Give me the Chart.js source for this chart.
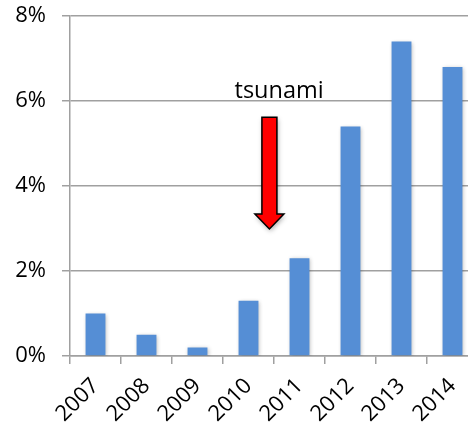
<!DOCTYPE html>
<html>
<head>
<meta charset="utf-8">
<script src="https://cdn.jsdelivr.net/npm/chart.js@4"></script>
<style>
  html, body { margin: 0; padding: 0; background: #fff; overflow: hidden; }
  #wrap { width: 480px; height: 438px; }
</style>
</head>
<body>
<div id="wrap"><canvas id="my_chart" width="480" height="438"></canvas></div>
<script>
const years = ['2007', '2008', '2009', '2010', '2011', '2012', '2013', '2014'];
const growth = [1.0, 0.5, 0.2, 1.3, 2.3, 5.4, 7.4, 6.8];
const yTickValues = [0, 2, 4, 6, 8];

const noteText = 'tsunami';
// where the note sits, in category index / axis value
const noteAt = 3.6, noteY = 6.07;
const arrowAt = 3.41, arrowTop = 5.62, arrowTip = 2.99;

const gridColor = '#a0a0a0';
const font = "'Open Sans', 'Liberation Sans', sans-serif";

const shadowPlugin = {
    id: 'barShadow',
    beforeDatasetsDraw(chart) {
        const ctx = chart.ctx;
        ctx.save();
        ctx.shadowColor = 'rgba(0,0,0,0.28)';
        ctx.shadowBlur = 4;
        ctx.shadowOffsetX = 1;
        ctx.shadowOffsetY = 1;
    },
    afterDatasetsDraw(chart) {
        chart.ctx.restore();
    }
};

const notePlugin = {
    id: 'tsunamiNote',
    afterDraw(chart) {
        const ctx = chart.ctx;
        const x = chart.scales.x, y = chart.scales.y;
        const step = x.getPixelForValue(1) - x.getPixelForValue(0);
        const px = (i) => x.getPixelForValue(0) + i * step;

        ctx.save();
        ctx.font = "23.5px " + font;
        ctx.fillStyle = '#000';
        ctx.textAlign = 'center';
        ctx.textBaseline = 'alphabetic';
        ctx.fillText(noteText, px(noteAt), y.getPixelForValue(noteY));

        const cx = px(arrowAt);
        const top = y.getPixelForValue(arrowTop);
        const tip = y.getPixelForValue(arrowTip);
        const shaft = 7.5, head = 14.5, headLen = 15;
        ctx.beginPath();
        ctx.moveTo(cx - shaft, top);
        ctx.lineTo(cx + shaft, top);
        ctx.lineTo(cx + shaft, tip - headLen);
        ctx.lineTo(cx + head, tip - headLen);
        ctx.lineTo(cx, tip);
        ctx.lineTo(cx - head, tip - headLen);
        ctx.lineTo(cx - shaft, tip - headLen);
        ctx.closePath();
        ctx.shadowColor = 'rgba(0,0,0,0.35)';
        ctx.shadowBlur = 5;
        ctx.shadowOffsetX = 1;
        ctx.shadowOffsetY = 2;
        ctx.fillStyle = '#ff0000';
        ctx.fill();
        ctx.shadowColor = 'transparent';
        ctx.lineWidth = 1.5;
        ctx.strokeStyle = '#000';
        ctx.stroke();
        ctx.restore();
    }
};

const info = {
    labels: years,
    datasets: [{
        data: growth,
        backgroundColor: '#558ed5',
        categoryPercentage: 0.78,
        barPercentage: 0.5
    }]
};

const options = {
    responsive: false,
    animation: false,
    layout: { padding: { top: 16, right: 2, left: 0, bottom: 0 } },
    scales: {
        y: {
            min: 0,
            max: 8,
            afterBuildTicks: (scale) => { scale.ticks = yTickValues.map((v) => ({ value: v })); },
            afterFit: (scale) => {
                scale.width = 70;
                scale.paddingTop = 0;
                scale.paddingBottom = 0;
            },
            ticks: {
                padding: 16,
                color: '#000',
                font: { family: font, size: 22 },
                callback: (v) => v + '%'
            },
            grid: { color: gridColor, lineWidth: 1.5, tickLength: 8, tickColor: gridColor },
            border: { color: gridColor, width: 1.5 }
        },
        x: {
            afterFit: (scale) => {
                scale.height = 82;
                scale.paddingLeft = 0;
                scale.paddingRight = 0;
            },
            ticks: {
                minRotation: 45,
                maxRotation: 45,
                padding: 9,
                color: '#000',
                font: { family: font, size: 22 }
            },
            grid: { drawOnChartArea: false, tickLength: 8, color: gridColor, lineWidth: 1.5 },
            border: { color: gridColor, width: 1.5 }
        }
    },
    plugins: {
        legend: { display: false },
        tooltip: { enabled: false }
    }
};

new Chart(document.getElementById('my_chart'), {
    type: 'bar',
    data: info,
    options,
    plugins: [shadowPlugin, notePlugin]
});
</script>
</body>
</html>
